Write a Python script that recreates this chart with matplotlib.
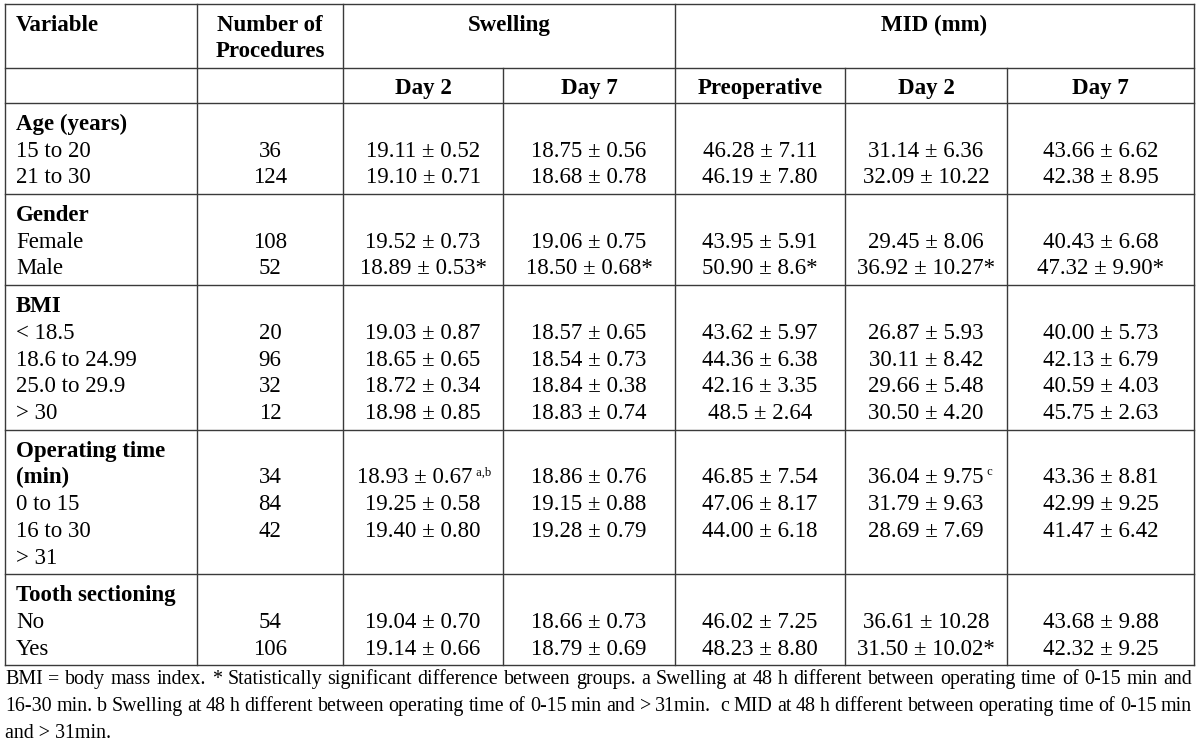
import matplotlib
matplotlib.use("Agg")
import matplotlib.pyplot as plt

# ── table content ────────────────────────────────────────────────────────────
GROUPS   = ["Age (years)", "Gender", "BMI", "Operating time\n(min)", "Tooth sectioning"]
LEVELS   = [["15 to 20", "21 to 30"],
            ["Female", "Male"],
            ["< 18.5", "18.6 to 24.99", "25.0 to 29.9", "> 30"],
            ["0 to 15", "16 to 30", "> 31"],
            ["No", "Yes"]]
N_PROC   = ["36", "124", "108", "52", "20", "96", "32", "12", "34", "84", "42", "54", "106"]
SWELL_D2 = ["19.11 ± 0.52", "19.10 ± 0.71", "19.52 ± 0.73", "18.89 ± 0.53*",
            "19.03 ± 0.87", "18.65 ± 0.65", "18.72 ± 0.34", "18.98 ± 0.85",
            "18.93 ± 0.67", "19.25 ± 0.58", "19.40 ± 0.80", "19.04 ± 0.70", "19.14 ± 0.66"]
SWELL_D7 = ["18.75 ± 0.56", "18.68 ± 0.78", "19.06 ± 0.75", "18.50 ± 0.68*",
            "18.57 ± 0.65", "18.54 ± 0.73", "18.84 ± 0.38", "18.83 ± 0.74",
            "18.86 ± 0.76", "19.15 ± 0.88", "19.28 ± 0.79", "18.66 ± 0.73", "18.79 ± 0.69"]
MID_PRE  = ["46.28 ± 7.11", "46.19 ± 7.80", "43.95 ± 5.91", "50.90 ± 8.6*",
            "43.62 ± 5.97", "44.36 ± 6.38", "42.16 ± 3.35", "48.5 ± 2.64",
            "46.85 ± 7.54", "47.06 ± 8.17", "44.00 ± 6.18", "46.02 ± 7.25", "48.23 ± 8.80"]
MID_D2   = ["31.14 ± 6.36", "32.09 ± 10.22", "29.45 ± 8.06", "36.92 ± 10.27*",
            "26.87 ± 5.93", "30.11 ± 8.42", "29.66 ± 5.48", "30.50 ± 4.20",
            "36.04 ± 9.75", "31.79 ± 9.63", "28.69 ± 7.69", "36.61 ± 10.28", "31.50 ± 10.02*"]
MID_D7   = ["43.66 ± 6.62", "42.38 ± 8.95", "40.43 ± 6.68", "47.32 ± 9.90*",
            "40.00 ± 5.73", "42.13 ± 6.79", "40.59 ± 4.03", "45.75 ± 2.63",
            "43.36 ± 8.81", "42.99 ± 9.25", "41.47 ± 6.42", "43.68 ± 9.88", "42.32 ± 9.25"]
# superscript notes: (column index, row index) -> text
SUPERS   = {(1, 8): "a,b", (4, 8): "c"}
SUBHEAD  = ["Day 2", "Day 7", "Preoperative", "Day 2", "Day 7"]
FOOTNOTE = [
    "BMI = body mass index. * Statistically significant difference between groups. "
    "a Swelling at 48 h different between operating time of 0-15 min and",
    "16-30 min. b Swelling at 48 h different between operating time of 0-15 min "
    "and > 31min.  c MID at 48 h different between operating time of 0-15 min",
    "and > 31min.",
]

# ── layout (pixels) ──────────────────────────────────────────────────────────
W, H = 1200, 746
XCOL = [5, 197, 343, 503, 675, 845, 1007, 1194]
Y_TOP, Y_HEAD, Y_SUB = 4, 68, 103
LINE = 26.7
PAD = 11
LC = "#3a3a3a"
FONT = "Liberation Serif"
FS = 16.5
FS_NOTE = 14.4

plt.rcParams["font.family"] = [FONT, "DejaVu Serif"]
fig = plt.figure(figsize=(W / 100, H / 100), dpi=100)
ax = fig.add_axes([0, 0, 1, 1])
ax.set_xlim(0, W)
ax.set_ylim(H, 0)
ax.axis("off")

# block extents
block_tops = [Y_SUB]
for grp, lev in zip(GROUPS, LEVELS):
    n_lines = grp.count("\n") + 1 + len(lev)
    block_tops.append(block_tops[-1] + n_lines * LINE + PAD)
Y_BOT = block_tops[-1]

# grid lines
for y in [Y_TOP, Y_HEAD, Y_SUB] + block_tops[1:]:
    ax.plot([XCOL[0], XCOL[-1]], [y, y], color=LC, lw=1.0)
for i, x in enumerate(XCOL):
    y0 = Y_HEAD if i in (3, 5, 6) else Y_TOP
    ax.plot([x, x], [y0, Y_BOT], color=LC, lw=1.0)

centers = [(a + b) / 2 for a, b in zip(XCOL[:-1], XCOL[1:])]

# header
bold = dict(fontsize=FS, fontweight="bold", va="baseline")
ax.text(16, 31, "Variable", **bold)
ax.text(centers[1], 31, "Number of", ha="center", **bold)
ax.text(centers[1], 57, "Procedures", ha="center", **bold)
ax.text((XCOL[2] + XCOL[4]) / 2, 31, "Swelling", ha="center", **bold)
ax.text((XCOL[4] + XCOL[7]) / 2, 31, "MID (mm)", ha="center", **bold)
for cx, s in zip(centers[2:], SUBHEAD):
    ax.text(cx, 94, s, ha="center", **bold)

# body
columns = [N_PROC, SWELL_D2, SWELL_D7, MID_PRE, MID_D2, MID_D7]
row = 0
for g, (grp, lev) in enumerate(zip(GROUPS, LEVELS)):
    base = block_tops[g] + 27
    head_lines = grp.split("\n")
    for k, hl in enumerate(head_lines):
        ax.text(16, base + k * LINE, hl, **bold)
    for k, lv in enumerate(lev):
        ax.text(16, base + (len(head_lines) + k) * LINE, lv, fontsize=FS, va="baseline")
    for k in range(len(lev)):
        y = base + (k + 1) * LINE
        for c, col in enumerate(columns):
            sup = SUPERS.get((c, row))
            shift = -8 if sup == "a,b" else 0
            t = ax.text(centers[c + 1] + shift, y, col[row], fontsize=FS,
                        ha="center", va="baseline")
            if sup:
                ax.annotate(" " + sup, xy=(1, 0.62), xycoords=t, fontsize=9,
                            va="baseline", ha="left")
        row += 1

# footnote, justified except for the last line
renderer = fig.canvas.get_renderer()
x_left, x_right = 5, 1192
for k, s in enumerate(FOOTNOTE):
    y = 684 + k * 27
    if k == len(FOOTNOTE) - 1:
        ax.text(x_left, y, s, fontsize=FS_NOTE, va="baseline")
        continue
    words = s.split(" ")
    arts = [ax.text(0, y, w, fontsize=FS_NOTE, va="baseline") for w in words]
    widths = [a.get_window_extent(renderer).width for a in arts]
    gap = (x_right - x_left - sum(widths)) / (len(words) - 1)
    x = x_left
    for a, w in zip(arts, widths):
        a.set_x(x)
        x += w + gap

fig.savefig("out.png", dpi=100)
